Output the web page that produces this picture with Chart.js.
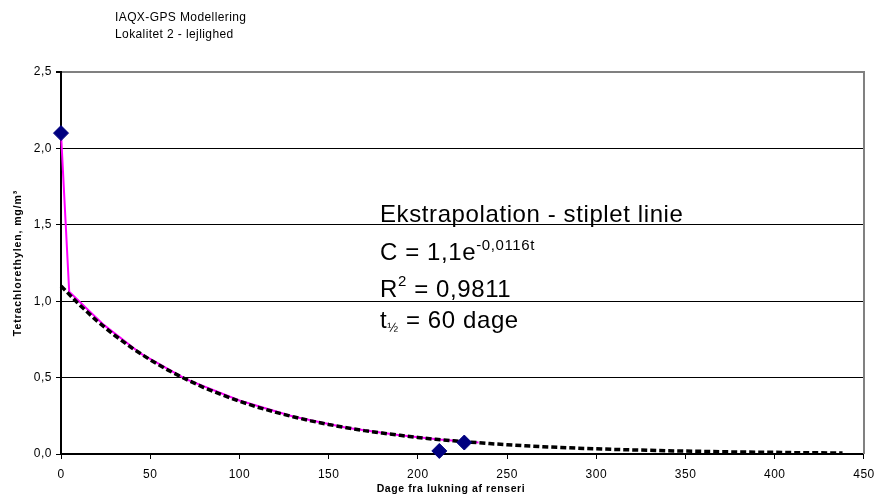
<!DOCTYPE html>
<html>
<head>
<meta charset="utf-8">
<script src="https://cdn.jsdelivr.net/npm/chart.js@4.4.1/dist/chart.umd.min.js"></script>
<style>
  html, body { margin: 0; padding: 0; background: #fff; }
</style>
</head>
<body>
<canvas id="chart" width="882" height="495"></canvas>
<script>
// measured concentrations (diamonds)
const measuredDays = [0, 212, 226];
const measuredConc = [2.1, 0.02, 0.075];

// model curve (magenta)
const modelDays = [0, 4.6, 24, 45, 70, 100, 130, 160, 190, 212, 226, 234];
const modelConc = [2.1, 1.062, 0.845, 0.655, 0.49, 0.35, 0.245, 0.172, 0.122, 0.095, 0.082, 0.076];

// extrapolation (dashed black)
const trendDays = [0, 10, 20, 30, 40, 50, 60, 70, 80, 90, 100, 110, 120, 130, 140, 150, 160, 170, 180, 190,
  200, 210, 220, 230, 240, 250, 260, 270, 280, 290, 300, 310, 320, 330, 340, 350, 360, 370, 380, 390,
  400, 410, 420, 430, 438];
const trendConc = [1.1, 0.98, 0.872, 0.777, 0.692, 0.616, 0.549, 0.489, 0.435, 0.388, 0.345, 0.307, 0.274,
  0.244, 0.217, 0.193, 0.172, 0.153, 0.137, 0.122, 0.108, 0.096, 0.086, 0.077, 0.068, 0.061, 0.054, 0.048,
  0.043, 0.038, 0.034, 0.03, 0.027, 0.024, 0.021, 0.019, 0.017, 0.015, 0.013, 0.012, 0.011, 0.009, 0.008,
  0.007, 0.007];

const xTicks = [0, 50, 100, 150, 200, 250, 300, 350, 400, 450];
const yTicks = [0, 0.5, 1, 1.5, 2, 2.5];

const headerLines = ["IAQX-GPS Modellering", "Lokalitet 2 - lejlighed"];
const xTitle = "Dage fra lukning af renseri";
const yTitle = "Tetrachlorethylen, mg/m\u00b3";
const fitTitle = "Ekstrapolation - stiplet linie";
const fitEq = ["C = 1,1e", "-0,0116t"];
const fitR2 = ["R", "2", " = 0,9811"];
const fitHalf = ["t", "\u00bd", " = 60 dage"];

const toXY = (xs, ys) => xs.map((x, i) => ({ x: x, y: ys[i] }));
const FONT = "'Liberation Sans', Arial, sans-serif";

function rich(ctx, x, y, parts) {
  let cx = x;
  parts.forEach(p => {
    ctx.font = p.size + "px " + FONT;
    ctx.fillText(p.text, cx, y + (p.dy || 0));
    cx += ctx.measureText(p.text).width;
  });
}

const textPlugin = {
  id: "texts",
  beforeDraw(chart) {
    chart.ctx.letterSpacing = "0.5px";
  },
  afterDraw(chart) {
    const ctx = chart.ctx;
    const area = chart.chartArea;
    ctx.save();

    // grey right border of plot area
    ctx.strokeStyle = "#808080";
    ctx.lineWidth = 2;
    ctx.beginPath();
    ctx.moveTo(area.right, area.top - 1);
    ctx.lineTo(area.right, area.bottom);
    ctx.stroke();

    ctx.fillStyle = "#000";
    ctx.textBaseline = "alphabetic";
    ctx.textAlign = "left";

    ctx.letterSpacing = "0.4px";
    ctx.font = "12px " + FONT;
    ctx.fillText(headerLines[0], 115, 21);
    ctx.fillText(headerLines[1], 115, 38);

    ctx.letterSpacing = "0.6px";
    ctx.font = "bold 10.5px " + FONT;
    ctx.textAlign = "center";
    ctx.fillText(xTitle, 451, 492);

    ctx.save();
    ctx.translate(21, 263);
    ctx.rotate(-Math.PI / 2);
    ctx.letterSpacing = "0.9px";
    ctx.fillText(yTitle, 0, 0);
    ctx.restore();

    ctx.textAlign = "left";
    ctx.letterSpacing = "0.6px";
    rich(ctx, 380, 222, [{ text: fitTitle, size: 24 }]);
    rich(ctx, 380, 260, [{ text: fitEq[0], size: 24 }, { text: fitEq[1], size: 15, dy: -10 }]);
    rich(ctx, 380, 297, [{ text: fitR2[0], size: 24 }, { text: fitR2[1], size: 15, dy: -11 }, { text: fitR2[2], size: 24 }]);
    rich(ctx, 380, 328, [{ text: fitHalf[0], size: 24 }, { text: fitHalf[1], size: 13, dy: 4 }, { text: fitHalf[2], size: 24 }]);

    ctx.restore();
  }
};

new Chart(document.getElementById("chart"), {
  type: "scatter",
  data: {
    datasets: [
      {
        label: "Målt",
        data: toXY(measuredDays, measuredConc),
        pointStyle: "rectRot",
        pointRadius: 7.5,
        backgroundColor: "#000080",
        borderColor: "#000080",
        borderWidth: 1,
        clip: false,
        order: 0
      },
      {
        label: "Ekstrapolation",
        data: toXY(trendDays, trendConc),
        showLine: true,
        borderColor: "#000",
        borderWidth: 3.5,
        borderDash: [6, 3],
        pointRadius: 0,
        tension: 0,
        clip: false,
        order: 1
      },
      {
        label: "Model",
        data: toXY(modelDays, modelConc),
        showLine: true,
        borderColor: "#ff00ff",
        borderWidth: 2,
        pointRadius: 0,
        tension: 0,
        clip: false,
        order: 2
      }
    ]
  },
  options: {
    responsive: false,
    animation: false,
    layout: { padding: { left: 0, top: 72, right: 15, bottom: 0 } },
    plugins: { legend: { display: false }, tooltip: { enabled: false } },
    scales: {
      x: {
        type: "linear",
        min: 0,
        max: 450,
        afterBuildTicks: s => { s.ticks = xTicks.map(v => ({ value: v })); },
        afterFit: s => { s.height = 41; },
        grid: { drawOnChartArea: false, drawTicks: true, tickLength: 5, color: "#000", lineWidth: 1 },
        border: { color: "#000", width: 2 },
        ticks: {
          color: "#000",
          font: { family: FONT, size: 12 },
          padding: 8,
          maxRotation: 0,
          autoSkip: false
        }
      },
      y: {
        min: 0,
        max: 2.5,
        afterBuildTicks: s => { s.ticks = yTicks.map(v => ({ value: v })); },
        afterFit: s => { s.width = 61; },
        grid: {
          color: c => (c.tick && c.tick.value === 2.5 ? "#808080" : "#000"),
          lineWidth: c => (c.tick && c.tick.value === 2.5 ? 2 : 1),
          tickColor: "#000",
          tickLength: 5
        },
        border: { color: "#000", width: 2 },
        ticks: {
          color: "#000",
          font: { family: FONT, size: 12 },
          padding: 4,
          callback: v => v.toFixed(1).replace(".", ",")
        }
      }
    }
  },
  plugins: [textPlugin]
});
</script>
</body>
</html>
